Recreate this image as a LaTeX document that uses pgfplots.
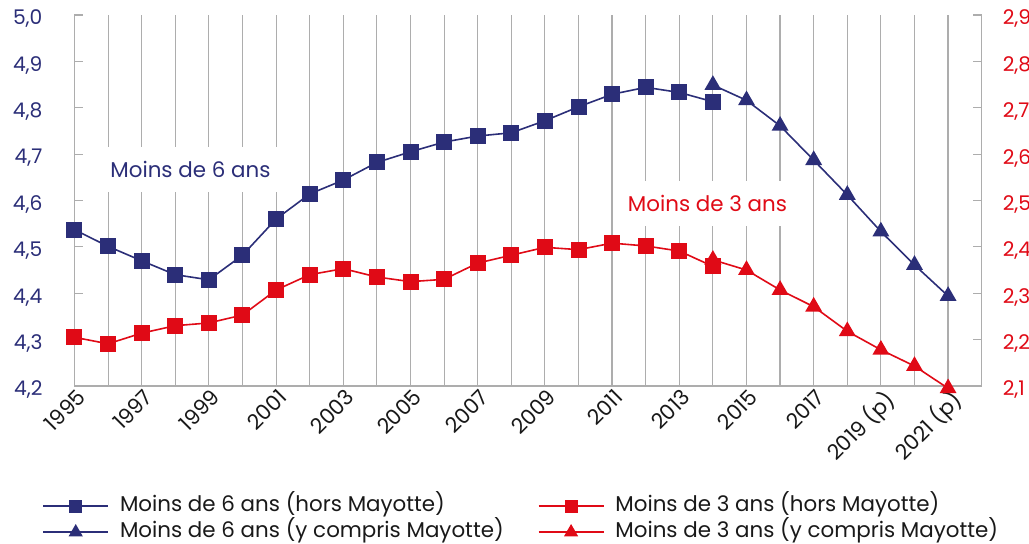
\documentclass[border=0pt]{standalone}
\usepackage{fontspec}
\setmainfont{Poppins}
\usepackage{pgfplots}
\pgfplotsset{compat=1.18}
\definecolor{navy}{HTML}{2B2E78}
\definecolor{rouge}{HTML}{E00A16}
\definecolor{grille}{HTML}{ADADAD}
\pgfplotsset{
  every axis plot/.append style={line width=0.8pt},
  legend image code/.code={\draw[mark repeat=2,mark phase=2,#1,/tikz/every mark/.append style={scale=0.8}] plot coordinates {(0pt,0pt) (16.25pt,0pt) (32.5pt,0pt)};},
}
\begin{document}
\begin{tikzpicture}
\path[use as bounding box] (-37.25pt,-79pt) rectangle (477.25pt,193pt);
\begin{axis}[
  scale only axis, width=453.6pt, height=185.5pt,
  clip=false,
  xmin=1995, xmax=2022, ymin=4.2, ymax=5.0,
  axis x line*=bottom, axis y line*=left,
  axis line style={grille, line width=0.55pt, -},
  xtick={1995,...,2021},
  xticklabels={1995,,1997,,1999,,2001,,2003,,2005,,2007,,2009,,2011,,2013,,2015,,2017,,2019 (p)\hspace{5pt},,2021 (p)\hspace{5pt}},
  xmajorgrids, major grid style={grille, line width=0.55pt},
  major x tick style={draw=none},
  xticklabel style={rotate=45, anchor=north east, inner sep=0pt, xshift=0pt, yshift=-1pt, font=\fontsize{10.6}{10.6}\selectfont, text=black!90},
  ytick={4.2,4.3,4.4,4.5,4.6,4.7,4.8,4.9,5.0},
  tick align=inside, major tick length=4.3pt,
  major y tick style={grille, line width=0.55pt},
  yticklabel style={font=\fontsize{10.1}{10.1}\selectfont, text=navy, xshift=-12.5pt, yshift=-2pt},
  /pgf/number format/.cd, fixed, fixed zerofill, precision=1, use comma, assume math mode=true,
  /pgfplots/.cd,
  legend columns=2,
  legend style={at={(-0.0358,-0.359)}, anchor=west, draw=none, fill=none,
    font=\fontsize{10.7}{10.7}\selectfont, text=black!90, inner sep=0pt, row sep=2.5pt,
    nodes={inner xsep=5.5pt, inner ysep=0pt, text height=8pt, text depth=2.5pt},
    /tikz/every even column/.append style={column sep=11.5pt}},
  legend cell align=left,
]
\addplot[navy, mark=square*, mark size=3.6pt] coordinates {
(1995,4.537) (1996,4.501) (1997,4.470) (1998,4.440) (1999,4.429) (2000,4.482)
(2001,4.560) (2002,4.614) (2003,4.644) (2004,4.682) (2005,4.705) (2006,4.726)
(2007,4.739) (2008,4.746) (2009,4.772) (2010,4.802) (2011,4.829) (2012,4.844)
(2013,4.833) (2014,4.813)};
\addlegendentry{Moins de 6 ans (hors Mayotte)}
\addlegendimage{rouge, line width=0.8pt, mark=square*, mark size=3.6pt}
\addlegendentry{Moins de 3 ans (hors Mayotte)}
\addplot[navy, mark=triangle*, mark size=4.1pt] coordinates {
(2014,4.849) (2015,4.816) (2016,4.761) (2017,4.687) (2018,4.612) (2019,4.533)
(2020,4.461) (2021,4.394)};
\addlegendentry{Moins de 6 ans (y compris Mayotte)}
\addlegendimage{rouge, line width=0.8pt, mark=triangle*, mark size=4.1pt}
\addlegendentry{Moins de 3 ans (y compris Mayotte)}
\node[fill=white, text=navy, font=\fontsize{10.7}{10.7}\selectfont, inner xsep=5.5pt, minimum height=22.5pt] at (axis cs:1998.45,4.667) {Moins de 6 ans};
\node[fill=white, text=rouge, font=\fontsize{10.7}{10.7}\selectfont, inner xsep=5.5pt, minimum height=22.5pt] at (axis cs:2013.84,4.594) {Moins de 3 ans};
\end{axis}
\begin{axis}[
  scale only axis, width=453.6pt, height=185.5pt,
  clip=false,
  xmin=1995, xmax=2022, ymin=2.1, ymax=2.9,
  axis x line=none, axis y line*=right,
  axis line style={grille, line width=0.55pt, -},
  ytick={2.1,2.2,2.3,2.4,2.5,2.6,2.7,2.8,2.9},
  tick align=inside, major tick length=4.3pt,
  major y tick style={grille, line width=0.55pt},
  yticklabel style={font=\fontsize{10.1}{10.1}\selectfont, text=rouge, xshift=7pt, yshift=-2pt},
  /pgf/number format/.cd, fixed, fixed zerofill, precision=1, use comma, assume math mode=true,
]
\addplot[rouge, mark=square*, mark size=3.6pt] coordinates {
(1995,2.205) (1996,2.191) (1997,2.214) (1998,2.230) (1999,2.236) (2000,2.253)
(2001,2.307) (2002,2.340) (2003,2.353) (2004,2.335) (2005,2.325) (2006,2.330)
(2007,2.365) (2008,2.382) (2009,2.399) (2010,2.394) (2011,2.408) (2012,2.402)
(2013,2.391) (2014,2.358)};
\addplot[rouge, mark=triangle*, mark size=4.1pt] coordinates {
(2014,2.372) (2015,2.350) (2016,2.307) (2017,2.271) (2018,2.218) (2019,2.178)
(2020,2.143) (2021,2.095)};
\end{axis}
\end{tikzpicture}
\end{document}
